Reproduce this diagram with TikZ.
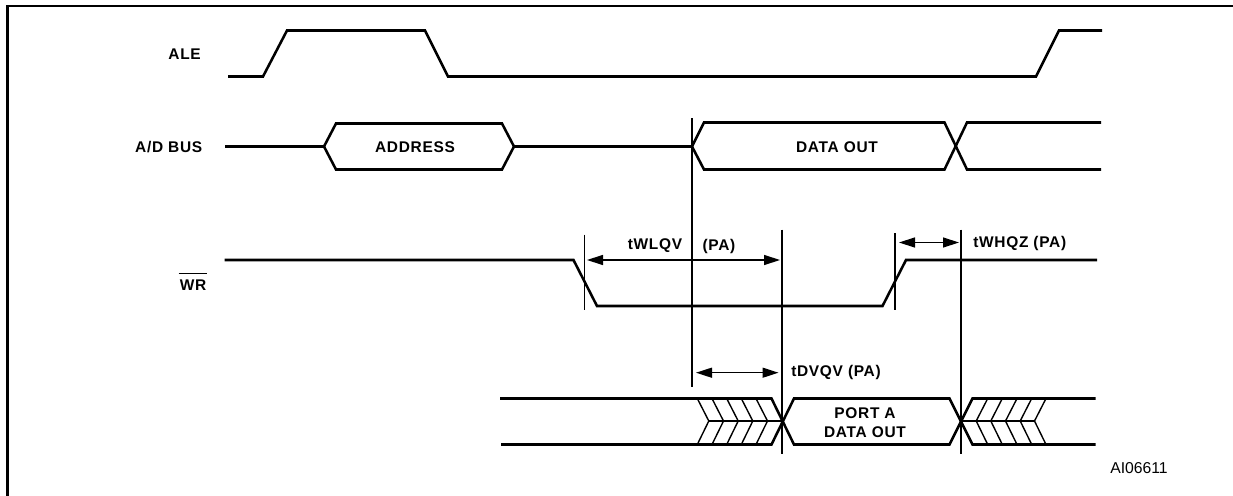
\documentclass[tikz,border=0pt]{standalone}
\usepackage{fontspec}
\setmainfont{Liberation Sans}
\newfontfamily\labfont[LetterSpace=4.5]{Liberation Sans}
\usetikzlibrary{arrows.meta}
\tikzset{
  wave/.style={line width=1.9pt,line join=miter},
  thin rule/.style={line width=1pt},
  hatch/.style={line width=1.05pt},
  frame/.style={line width=1.6pt},
  dim/.style={line width=1pt,{Triangle[length=12pt,width=7.5pt]}-{Triangle[length=12pt,width=7.5pt]}},
  lab/.style={font=\labfont\fontsize{11.6pt}{14pt}\selectfont\bfseries,inner sep=0pt,align=center},
  ref/.style={font=\fontsize{11.8pt}{13pt}\selectfont,inner sep=0pt}
}
\begin{document}
\begin{tikzpicture}[x=0.75pt,y=-0.75pt]
\useasboundingbox (0,0) rectangle (1233,496);
\clip (0,0) rectangle (1233,496);
% frame: open at the right and the bottom, as in the reference crop
\draw[frame] (7.5,497) -- (7.5,5.7) -- (1234,5.7);
% ALE
\draw[wave] (228,76.5) -- (263,76.5) -- (287,30.5) -- (425,30.5) -- (448,76.5) -- (1036,76.5) -- (1059,30.5) -- (1102,30.5);
% A/D BUS
\draw[wave] (225,146.5) -- (324,146.5) -- (336,123.5) -- (502,123.5) -- (514,146.5) -- (692,146.5);
\draw[wave] (324,146.5) -- (336,169.5) -- (502,169.5) -- (514,146.5);
\draw[wave] (692,146.5) -- (704,122.5) -- (944.5,122.5) -- (967,169.5) -- (1101,169.5);
\draw[wave] (692,146.5) -- (704,169.5) -- (944.5,169.5) -- (967,122.5) -- (1101,122.5);
% WR
\draw[wave] (224.5,260) -- (573.5,260) -- (597,306) -- (882.5,306) -- (906,260) -- (1097,260);
% Port A
\draw[wave] (500,398.5) -- (771.5,398.5) -- (794,444.5) -- (949.5,444.5) -- (972.5,398.5) -- (1095.5,398.5);
\draw[wave] (501,444.5) -- (771.5,444.5) -- (794,398.5) -- (949.5,398.5) -- (972.5,444.5) -- (1095.5,444.5);
% hatching
\draw[hatch] (709,421) -- (782,421);
\foreach \a in {697.3,712,726.7,741.3,756}
  \draw[hatch] (\a,398.5) -- ({\a+11.5},421) -- (\a,444.5);
\draw[hatch] (961,421) -- (1035,421);
\foreach \a in {987.7,1002.3,1017,1031.7,1046}
  \draw[hatch] (\a,398.5) -- ({\a-11.5},421) -- (\a,444.5);
% rules
\coordinate (v1t) at (692,118); \coordinate (v1b) at (692,386.5);
\coordinate (v2t) at (782,229.5); \coordinate (v2b) at (782,454);
\coordinate (v3t) at (961,229.5); \coordinate (v3b) at (961,454);
\coordinate (t1t) at (584.7,234.5); \coordinate (t1b) at (584.7,309.5);
\coordinate (t2t) at (895,233); \coordinate (t2b) at (895,309.5);
\draw[thin rule] (v1t) -- (v1b);
\draw[thin rule] (v2t) -- (v2b);
\draw[thin rule] (v3t) -- (v3b);
\draw[thin rule] (t1t) -- (t1b);
\draw[thin rule] (t2t) -- (t2b);
% dimension arrows
\coordinate (a1l) at (587,260); \coordinate (a1r) at (780,260);
\coordinate (a2l) at (899,242.5); \coordinate (a2r) at (959,242.5);
\coordinate (a3l) at (696,372.7); \coordinate (a3r) at (778.5,372.7);
\draw[dim] (a1l) -- (a1r);
\draw[dim] (a2l) -- (a2r);
\draw[dim] (a3l) -- (a3r);
% labels
\node[lab,anchor=east] (ale) at (201,54) {ALE};
\node[lab,anchor=east] (bus) at (202.5,147.5) {A/D BUS};
\node[lab] (addr) at (415,147) {ADDRESS};
\node[lab] (dout) at (837,147) {DATA OUT};
\node[lab,anchor=east] (wr) at (206.5,285) {WR};
\draw[line width=0.8pt] (178.5,273.5) -- (206.5,273.5);
\node[lab] (t1) at (655,246) {tWLQV};
\node[lab] (t1b2) at (719,246) {(PA)};
\node[lab,anchor=west] (t2) at (973,243) {tWHQZ (PA)};
\node[lab,anchor=west] (t3) at (791,372.7) {tDVQV (PA)};
\node[lab] (p1) at (865,413) {PORT A};
\node[lab] (p2) at (865,432) {DATA OUT};
\node[ref,anchor=west] (ai) at (1110,468) {AI06611};
\end{tikzpicture}
\end{document}
